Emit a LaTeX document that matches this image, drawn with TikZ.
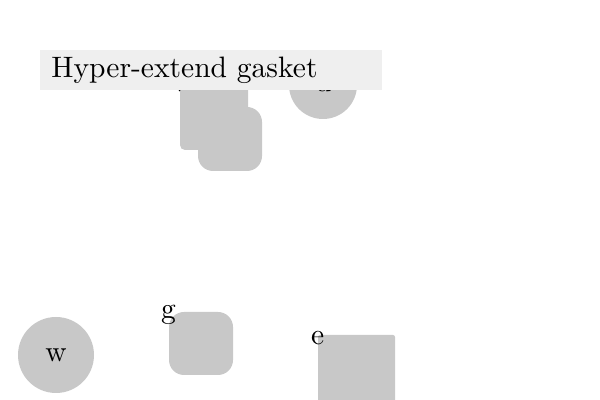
\documentclass[tikz,border=0pt]{standalone}
\usepackage{fontspec}
\setmainfont{lmroman10-regular.otf}
\definecolor{shapegray}{RGB}{200,200,200}
\definecolor{titlegray}{RGB}{239,239,239}
\begin{document}
\begin{tikzpicture}[x=0.5pt,y=-0.5pt,font=\fontsize{14.77}{18}\selectfont,
blob/.style={fill=shapegray,inner sep=0pt},
tag/.style={inner sep=0pt}]
\useasboundingbox (0,0) rectangle (600,400);
\node[blob,rounded corners=7.5pt,minimum size=32pt] (x) at (230,139) {};
\node[blob,rounded corners=2.5pt,minimum width=34pt,minimum height=33.5pt] (v) at (214,116.5) {};
\node[blob,circle,minimum size=34pt] (u) at (323,85) {u};
\node[blob,circle,minimum size=38pt] (w) at (56,355) {w};
\node[blob,rounded corners=7.5pt,minimum width=32pt,minimum height=31.5pt] (g) at (201,343.5) {};
\node[blob,rounded corners=1pt,minimum size=38.5pt] (e) at (356.5,373.5) {};
\foreach \n in {v,g,e}{\node[tag] at ([yshift=-1.5pt]\n.north west) {\n};}
\node[fill=titlegray,anchor=north west,minimum height=19.5pt,inner xsep=5.5pt,text width=160pt] (title) at (40,50) {Hyper-extend gasket};
\end{tikzpicture}
\end{document}
